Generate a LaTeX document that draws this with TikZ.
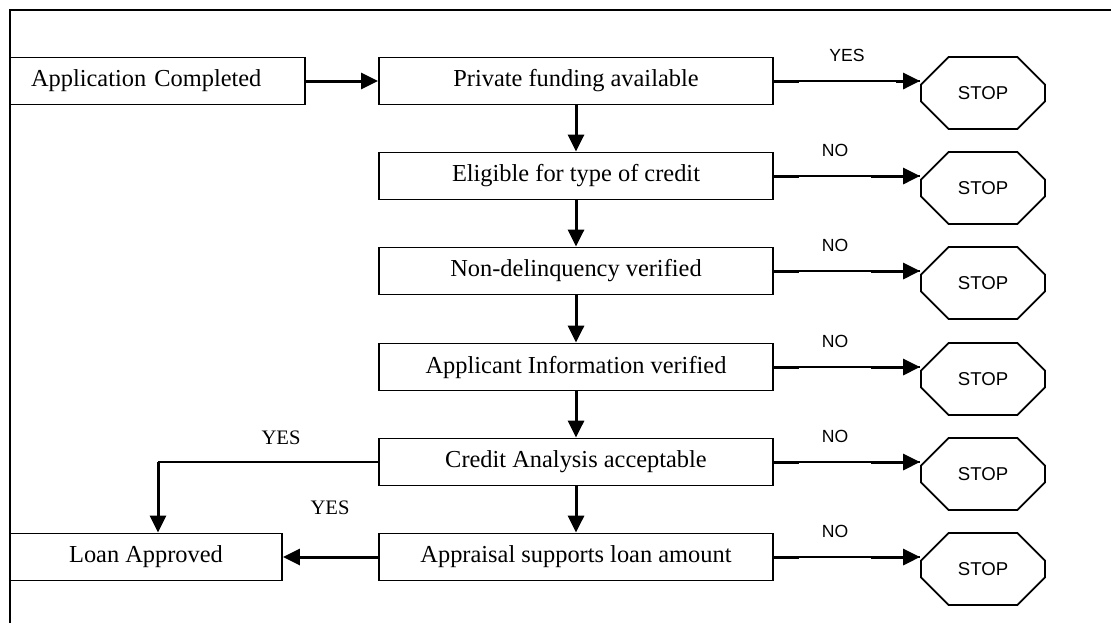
\documentclass[tikz,border=0pt]{standalone}
\usepackage{fontspec}
\setmainfont{Liberation Serif}
\newfontfamily\arialfont{Liberation Sans}
\usetikzlibrary{arrows.meta,shapes.misc,calc}

\begin{document}
\begin{tikzpicture}[x=0.5pt,y=-0.5pt,
    box/.style={draw,line width=0.9pt,minimum width=197pt,minimum height=23.5pt,inner sep=0pt,font=\fontsize{12.2}{14}\selectfont},
    stopsign/.style={draw,line width=0.9pt,chamfered rectangle,chamfered rectangle xsep=11pt,chamfered rectangle ysep=10.5pt,minimum width=62pt,minimum height=36pt,inner sep=0pt,font=\arialfont\fontsize{9.3}{11}\selectfont},
    answer/.style={inner sep=0pt,font=\arialfont\fontsize{8.8}{10}\selectfont},
    flow/.style={line width=1.5pt,-{Triangle[length=8.5pt,width=8pt]}},
    link/.style={line width=0.7pt},
    stub/.style={line width=1.5pt}]
      \useasboundingbox (0,0) rectangle (1111,623);
      % Frame
      \draw[line width=0.9pt] (10,623) -- (10,10) -- (1111,10);
      % Checks
      \node[box] (fund) at (576,81) {Private funding available};
      \node[box] (elig) at (576,176) {Eligible for type of credit};
      \node[box] (delinq) at (576,271) {Non-delinquency verified};
      \node[box] (info) at (576,367) {Applicant Information verified};
      \node[box] (credit) at (576,462) {Credit Analysis acceptable};
      \node[box] (apprais) at (576,557) {Appraisal supports loan amount};
      % Start and end
      \node[box,minimum width=0pt,text width=126.5pt,align=left,inner xsep=10.5pt] (app) at (157.5,81) {Application Completed};
      \node[box,minimum width=136pt] (loan) at (146,557) {Loan Approved};
      % Stop signs
      \foreach \r/\y in {1/81,2/176,3/271,4/367,5/462,6/557}
        \node[stopsign] (stop\r) at (983,{\y+12}) {STOP};
      % Answers
      \node[answer] (ans1) at (847,55) {YES};
      \foreach \r/\y in {2/176,3/271,4/367,5/462,6/557}
        \node[answer] (ans\r) at (835,{\y-26}) {NO};
      \node[inner sep=0pt,font=\fontsize{10.3}{12}\selectfont] (yesa) at (281,438) {YES};
      \node[inner sep=0pt,font=\fontsize{10.3}{12}\selectfont] (yesb) at (330,508) {YES};
      % Main line
      \draw[flow] (app) -- (fund);
      \draw[flow] (fund) -- (elig);
      \draw[flow] (elig) -- (delinq);
      \draw[flow] (delinq) -- (info);
      \draw[flow] (info) -- (credit);
      \draw[flow] (credit) -- (apprais);
      \draw[flow] (apprais) -- (loan);
      \coordinate (bend) at (158,462);
      \draw[line width=0.9pt] (credit.west) -- (bend);
      \draw[flow] (bend) -- (bend |- loan.north);
      % To stop
      \foreach \a/\r/\len in {fund/1/12,elig/2/24.5,delinq/3/24.5,info/4/24.5,credit/5/24.5,apprais/6/24.5} {
        \draw[link] (\a.east) -- (\a.east -| stop\r.west);
        \draw[stub] (\a.east) -- ++(12.5pt,0pt);
        \draw[flow] ($(\a.east -| stop\r.west)+(-\len pt,0pt)$) -- (\a.east -| stop\r.west);
      }
    \end{tikzpicture}
\end{document}
